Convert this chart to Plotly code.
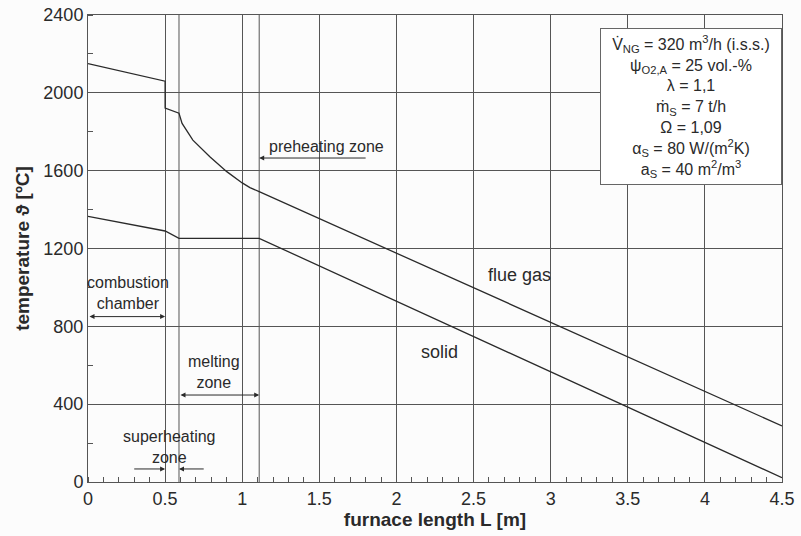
import plotly.graph_objects as go

# Data
flue_x = [0, 0.5, 0.5, 0.59, 0.61, 0.68, 0.79, 0.9, 1.0, 1.05, 1.11, 4.5]
flue_y = [2150, 2060, 1922, 1895, 1843, 1757, 1672, 1595, 1537, 1513, 1492, 288]
solid_x = [0, 0.5, 0.59, 1.11, 4.5]
solid_y = [1365, 1290, 1252, 1252, 22]
zone_bounds = [0.59, 1.11]
x_ticks = [0, 0.5, 1, 1.5, 2, 2.5, 3, 3.5, 4, 4.5]
y_ticks = [0, 400, 800, 1200, 1600, 2000, 2400]

FONT = "Liberation Sans, Arial, Helvetica, sans-serif"
LINE = "#2a2a2a"
GRID = "#555555"
TXT = "#2a2a2a"

fig = go.Figure()
fig.add_trace(go.Scatter(x=flue_x, y=flue_y, mode="lines", line=dict(color=LINE, width=1.3),
                         showlegend=False, hoverinfo="skip"))
fig.add_trace(go.Scatter(x=solid_x, y=solid_y, mode="lines", line=dict(color=LINE, width=1.3),
                         showlegend=False, hoverinfo="skip"))

for xb in zone_bounds:
    fig.add_shape(type="line", xref="x", yref="paper", x0=xb, x1=xb, y0=0, y1=1,
                  line=dict(color=GRID, width=1), layer="below")

def arrow(x_tip, x_tail, y, both=False):
    fig.add_annotation(x=x_tip, y=y, ax=x_tail, ay=y, xref="x", yref="y", axref="x", ayref="y",
                       text="", showarrow=True, arrowhead=2, arrowsize=1, arrowwidth=1,
                       arrowcolor=LINE, arrowside="end+start" if both else "end",
                       startarrowhead=2, startarrowsize=1)

arrow(0.5, 0.0, 850, both=True)
arrow(1.11, 0.59, 447, both=True)
arrow(0.5, 0.29, 67)
arrow(0.59, 0.76, 67)
arrow(1.11, 1.81, 1665)

def label(x, y, t, size=16, xanchor="center"):
    fig.add_annotation(x=x, y=y, xref="x", yref="y", text=t, showarrow=False,
                       font=dict(family=FONT, size=size, color=TXT), xanchor=xanchor,
                       yanchor="middle")

label(0.26, 970, "combustion<br>chamber")
label(0.82, 565, "melting<br>zone")
label(0.53, 180, "superheating<br>zone")
label(1.16, 1722, "preheating zone", xanchor="left")
label(2.80, 1064, "flue gas", size=18)
label(2.28, 668, "solid", size=18)

box_text = ("V\u0307<sub>NG</sub> = 320 m<sup>3</sup>/h (i.s.s.)<br>"
            "\u03c8<sub>O2,A</sub> = 25 vol.-%<br>"
            "\u03bb = 1,1<br>"
            "\u1e41<sub>S</sub> = 7 t/h<br>"
            "\u03a9 = 1,09<br>"
            "\u03b1<sub>S</sub> = 80 W/(m<sup>2</sup>K)<br>"
            "a<sub>S</sub> = 40 m<sup>2</sup>/m<sup>3</sup>")
fig.add_annotation(x=0.8695, y=0.972, xref="paper", yref="paper", xanchor="center", yanchor="top",
                   text=box_text, showarrow=False, align="center", width=176, height=151,
                   bordercolor="#666666", borderwidth=1, bgcolor="#ffffff", borderpad=2,
                   font=dict(family=FONT, size=16, color=TXT))

fig.update_layout(
    width=801, height=536,
    margin=dict(l=88, r=19, t=15, b=54, autoexpand=False),
    paper_bgcolor="#fcfcfc", plot_bgcolor="#fcfcfc",
    font=dict(family=FONT, size=18, color=TXT),
    xaxis=dict(range=[0, 4.5], tickvals=x_ticks, ticktext=[f"{v:g}" for v in x_ticks],
               automargin=False,
               showgrid=True, gridcolor=GRID, gridwidth=1, zeroline=False,
               showline=True, linecolor=GRID, linewidth=1, mirror=True,
               ticks="", minor=dict(dtick=0.1, ticks="inside", ticklen=5, tickcolor=GRID, showgrid=False),
               title=dict(text="<b>furnace length L [m]</b>", font=dict(size=19), standoff=4),
               tickfont=dict(size=18)),
    yaxis=dict(range=[0, 2400], tickvals=y_ticks, automargin=False,
               showgrid=True, gridcolor=GRID, gridwidth=1, zeroline=False,
               showline=True, linecolor=GRID, linewidth=1, mirror=True,
               ticks="", minor=dict(dtick=200, ticks="inside", ticklen=5, tickcolor=GRID, showgrid=False),
               title=dict(text="<b>temperature \u03d1 [\u00baC]</b>", font=dict(size=19), standoff=8),
               tickfont=dict(size=18)),
)

fig.write_html("out.html")
